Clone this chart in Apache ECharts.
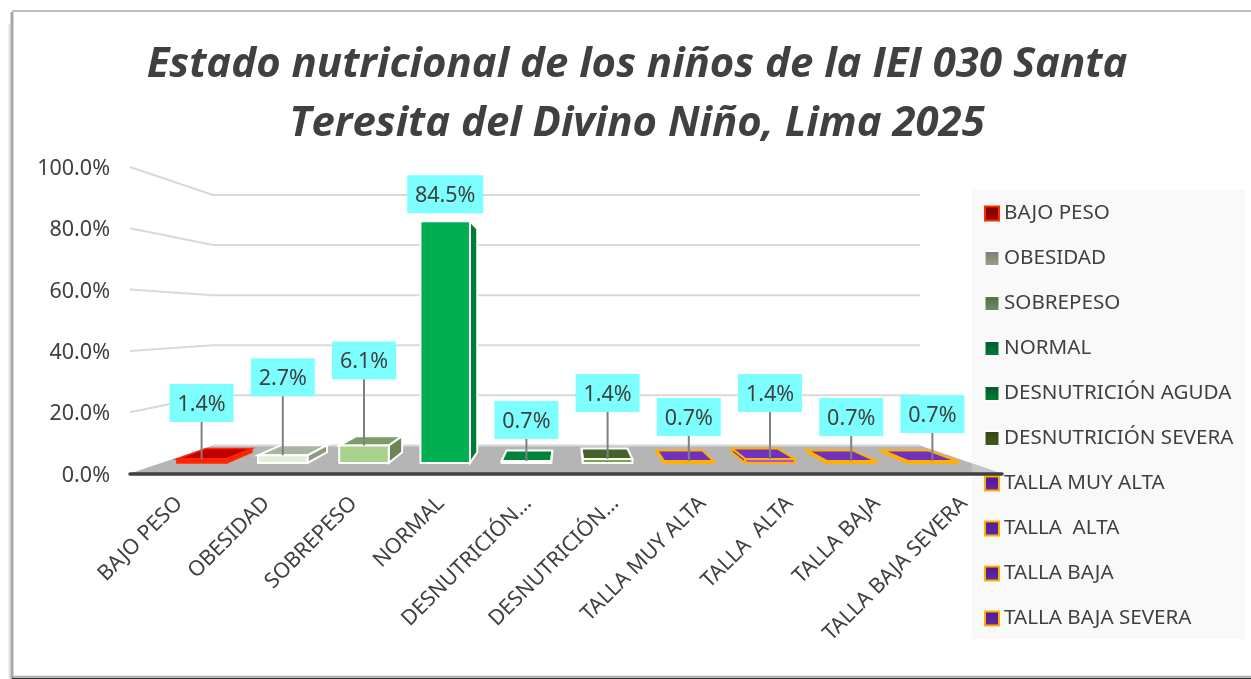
<!DOCTYPE html>
<html><head><meta charset="utf-8">
<style>html,body{margin:0;padding:0;background:#fff}#c{width:1251px;height:679px}</style>
<script src="https://cdn.jsdelivr.net/npm/echarts@6/dist/echarts.min.js"></script>
</head><body><div id="c"></div>
<script>
const titleText = "Estado nutricional de los niños de la IEI 030 Santa\nTeresita del Divino Niño, Lima 2025";
const legendNames = ["BAJO PESO","OBESIDAD","SOBREPESO","NORMAL","DESNUTRICIÓN AGUDA","DESNUTRICIÓN SEVERA","TALLA MUY ALTA","TALLA  ALTA","TALLA BAJA","TALLA BAJA SEVERA"];
const tickLabels = ["BAJO PESO","OBESIDAD","SOBREPESO","NORMAL","DESNUTRICIÓN…","DESNUTRICIÓN…","TALLA MUY ALTA","TALLA  ALTA","TALLA BAJA","TALLA BAJA SEVERA"];
const values = [1.4,2.7,6.1,84.5,0.7,1.4,0.7,1.4,0.7,0.7];
const yTicks = [0,20,40,60,80,100];

// Layout and style tables (not data)
const labelLift = [56,78,85,27,41,66,44,66,44,47];
const HORIZON = {x:567,y:320}, BAR_DEPTH = 0.925, WALL_DEPTH = 0.817;
const WALL_LEFT = 213, WALL_RIGHT = 920;
const TEXT = "#404040", FONT = "'Noto Sans'";
const ORANGE = "#ffb000", PURPLE = "#7030c0";
const faces = [
  {front:"#ff2200",top:"#c00000",side:"#ff2200",stroke:"#ff2a00",sw:1.5,lg:["#7a0000","#a00000"],lb:"#ff2a00"},
  {front:"#e2efd9",top:"#a8b5a0",side:"#8a9a80",stroke:"#ffffff",sw:2,lg:["#79806f","#98a090"],lb:"#ffffff"},
  {front:"#a9d18e",top:"#7d9c6a",side:"#6b8557",stroke:"#ffffff",sw:2,lg:["#566f44","#6f8a5b"],lb:"#ffffff"},
  {front:"#00b050",top:"#007a37",side:"#007a37",stroke:"#ffffff",sw:2,lg:["#005a28","#007a38"],lb:"#ffffff"},
  {front:"#00843c",top:"#00843c",side:"#006a30",stroke:"#ffffff",sw:2,lg:["#005a28","#007a38"],lb:"#ffffff"},
  {front:"#70ad47",top:"#456228",side:"#456228",stroke:"#ffffff",sw:2,lg:["#2e4517","#3f5c22"],lb:"#ffffff"},
  {front:PURPLE,top:PURPLE,side:PURPLE,stroke:ORANGE,sw:2,lg:["#4c1a8c","#6428ac"],lb:ORANGE},
  {front:"#a855e0",top:PURPLE,side:PURPLE,stroke:ORANGE,sw:2,lg:["#4c1a8c","#6428ac"],lb:ORANGE},
  {front:PURPLE,top:PURPLE,side:PURPLE,stroke:ORANGE,sw:2,lg:["#4c1a8c","#6428ac"],lb:ORANGE},
  {front:PURPLE,top:PURPLE,side:PURPLE,stroke:ORANGE,sw:2,lg:["#4c1a8c","#6428ac"],lb:ORANGE}
];
const back = p => [HORIZON.x+(p[0]-HORIZON.x)*BAR_DEPTH, HORIZON.y+(p[1]-HORIZON.y)*BAR_DEPTH];

function barRenderer(i){
  const f = faces[i];
  return function(params, api){
    const idx = api.value(0), v = api.value(1);
    const base = api.coord([idx,0]), top = api.coord([idx,v]);
    const hw = api.size([1,0])[0]*0.305;
    const fl=[base[0]-hw,top[1]], fr=[base[0]+hw,top[1]], br=[base[0]+hw,base[1]], bl=[base[0]-hw,base[1]];
    const sideA = base[0] < HORIZON.x ? fr : fl, sideB = base[0] < HORIZON.x ? br : bl;
    const st = c => ({fill:c,stroke:f.stroke,lineWidth:f.sw,lineJoin:'miter'});
    const cy = top[1]-labelLift[i];
    const text = v.toFixed(1)+'%';
    const boxW = text.length*12+16;
    const kids = [
      {type:'polygon',shape:{points:[fl,fr,back(fr),back(fl)]},style:st(f.top)},
      {type:'polygon',shape:{points:[sideA,back(sideA),back(sideB),sideB]},style:st(f.side)},
      {type:'polygon',shape:{points:[fl,fr,br,bl]},style:st(f.front)}
    ];
    if (labelLift[i] > 30) kids.push({type:'line',shape:{x1:base[0],y1:top[1],x2:base[0],y2:cy},style:{stroke:'#808080',lineWidth:2}});
    kids.push({type:'rect',shape:{x:base[0]-boxW/2,y:cy-19,width:boxW,height:38},style:{fill:'#7dffff'}});
    kids.push({type:'text',style:{x:base[0],y:cy+1.5,text,align:'center',verticalAlign:'middle',fill:TEXT,font:"21.5px "+FONT}});
    return {type:'group',children:kids};
  };
}

const barSeries = legendNames.map((name,i)=>({
  name, type:'custom', xAxisIndex:1, yAxisIndex:1, z:3,
  data:[[i,values[i]]],
  encode:{x:0,y:1}, renderItem:barRenderer(i), silent:true
}));

const floorSeries = {
  type:'custom', xAxisIndex:0, yAxisIndex:0, z:0, silent:true, data:[[0,0]], encode:{x:0,y:1},
  renderItem(p,api){
    const c=p.coordSys, y=api.coord([0,0])[1], by=HORIZON.y+(y-HORIZON.y)*WALL_DEPTH;
    return {type:'polygon',shape:{points:[[c.x,y],[WALL_LEFT,by],[WALL_RIGHT,by],[c.x+c.width,y]]},style:{fill:'#b5b5b5'}};
  }
};
const wallSeries = {
  type:'custom', xAxisIndex:0, yAxisIndex:0, z:0, silent:true, data:yTicks.map(t=>[0,t]), encode:{x:0,y:1},
  renderItem(p,api){
    const c=p.coordSys, t=api.value(1), y=api.coord([0,t])[1], by=HORIZON.y+(y-HORIZON.y)*WALL_DEPTH;
    const pts = t===0 ? [[WALL_LEFT,by],[WALL_RIGHT,by]] : [[c.x,y],[WALL_LEFT,by],[WALL_RIGHT,by]];
    return {type:'polyline',shape:{points:pts},style:{stroke:'#d9d9d9',lineWidth:2,fill:null}};
  }
};

const chart = echarts.init(document.getElementById('c'),null,{renderer:'canvas'});
chart.setOption({
  animation:false,
  backgroundColor:'#ffffff',
  textStyle:{fontFamily:FONT},
  title:{text:titleText,left:632,top:31,textAlign:'center',
    textStyle:{fontFamily:"'Open Sans'",fontStyle:'italic',fontWeight:'bold',fontSize:41.9,lineHeight:59,color:TEXT}},
  grid:[
    {left:130,width:872,top:167,height:306.5},
    {left:161,width:812,top:177,height:286}
  ],
  xAxis:[
    {type:'category',gridIndex:0,data:tickLabels.map((t,i)=>String(i)),z:5,
      axisLine:{lineStyle:{color:'#404040',width:3.5}},axisTick:{show:false},splitLine:{show:false},
      axisLabel:{interval:0,rotate:45,margin:21,formatter:(v,i)=>'{a|'+tickLabels[i]+'}',
        rich:{a:{padding:[16,0,0,0],color:TEXT,fontFamily:FONT,fontSize:21.3}}}},
    {type:'category',gridIndex:1,show:false,data:tickLabels.map((t,i)=>String(i))}
  ],
  yAxis:[
    {type:'value',gridIndex:0,min:0,max:100,interval:20,axisLine:{show:false},axisTick:{show:false},splitLine:{show:false},
      axisLabel:{margin:20,formatter:v=>'{a|'+v.toFixed(1)+'%}',
        rich:{a:{padding:[4,0,0,0],color:TEXT,fontFamily:FONT,fontSize:21.5}}}},
    {type:'value',gridIndex:1,show:false,min:0,max:100,splitLine:{show:false}}
  ],
  legend:{orient:'vertical',left:984,top:203,padding:0,itemWidth:14,itemHeight:14,itemGap:24,icon:'rect',selectedMode:false,
    textStyle:{fontFamily:FONT,fontSize:20.6,lineHeight:20,color:TEXT},
    data:legendNames.map((name,i)=>({name,icon:'rect',itemStyle:{
      color:{type:'linear',x:0,y:0,x2:0,y2:1,colorStops:[{offset:0,color:faces[i].lg[0]},{offset:1,color:faces[i].lg[1]}]},
      borderColor:faces[i].lb,borderWidth:faces[i].lb==='#ffffff'?1:2}}))},
  graphic:[
    {type:'rect',z:1,silent:true,shape:{x:972,y:190,width:273,height:449},style:{fill:'rgba(234,234,234,0.3)'}},
    {type:'line',silent:true,shape:{x1:12,y1:11,x2:1251,y2:11},style:{stroke:'#bfbfbf',lineWidth:2}},
    {type:'line',silent:true,shape:{x1:9.5,y1:24,x2:9.5,y2:679},style:{stroke:'#e4e4e4',lineWidth:2}},
    {type:'line',silent:true,shape:{x1:12,y1:12,x2:12,y2:679},style:{stroke:'#a8a8a8',lineWidth:3}},
    {type:'line',silent:true,shape:{x1:12,y1:676.5,x2:1251,y2:676.5},style:{stroke:'#b0b0b0',lineWidth:1.5}},
    {type:'line',silent:true,shape:{x1:12,y1:678.5,x2:1251,y2:678.5},style:{stroke:'#333333',lineWidth:1.5}}
  ],
  series:[floorSeries,wallSeries,...barSeries]
});
</script></body></html>
